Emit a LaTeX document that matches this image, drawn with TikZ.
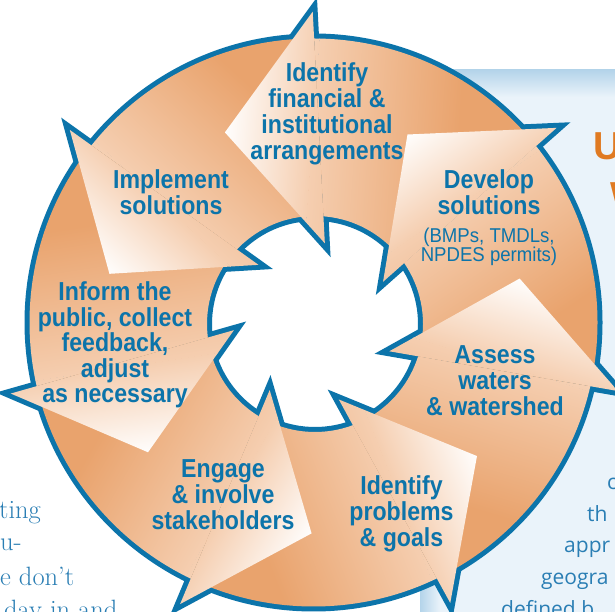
\documentclass[tikz,border=0pt]{standalone}
\usepackage{fontspec}
\newfontfamily\cond[FakeStretch=0.89]{Liberation Sans}
\newfontfamily\condreg[FakeStretch=0.93]{Liberation Sans}
\newfontfamily\osans{Open Sans}
\newfontfamily\lsans{Liberation Sans}
\usetikzlibrary{calc}
\definecolor{cblue}{HTML}{0C74AA}
\definecolor{odark}{HTML}{E9A36D}
\definecolor{opeach}{HTML}{F5CEB0}
\definecolor{panelc}{HTML}{EAF3FA}
\definecolor{paneledge}{HTML}{B4D4EA}
\definecolor{uorange}{HTML}{E07A22}
\definecolor{sblue}{HTML}{2A7EB4}
\tikzset{
  steplabel/.style={text=cblue, font=\cond\bfseries\fontsize{26}{26}\selectfont, align=center, inner sep=0pt, anchor=base},
  subnote/.style={text=cblue, font=\condreg\fontsize{20}{19}\selectfont, align=center, inner sep=0pt, anchor=base},
  rim/.style={draw=cblue, line width=10pt, line join=miter, miter limit=10},
  pagetext/.style={text=sblue, inner sep=0pt, anchor=base west},
}
\newcommand{\arrowgrad}[1]{%
  \begin{scope}[transform canvas={shift={(314pt,289pt)}, rotate=#1-7.2}]
    \fill[odark] (-700,-700) rectangle (700,-130);
    \shade[bottom color=odark, top color=opeach] (-700,-130.6) rectangle (700,15.4);
    \shade[bottom color=opeach, top color=white] (-700,15) rectangle (700,105.4);
    \fill[white] (-700,105) rectangle (700,700);
  \end{scope}}
\begin{document}
\begin{tikzpicture}[x=1pt,y=1pt]
\useasboundingbox (0,0) rectangle (615,612);
\clip (0,0) rectangle (615,612);
\fill[white] (0,0) rectangle (615,612);
% background panel
\fill[panelc] (420,0) rectangle (615,542);
\shade[top color=paneledge, bottom color=panelc] (420,542) rectangle (615,515);
\shade[left color=paneledge, right color=panelc] (420,0) rectangle (440,542);
% page text fragments
\node[pagetext, text=uorange, font=\lsans\bfseries\fontsize{39}{39}\selectfont] (tU) at (593,452) {U};
\node[pagetext, text=uorange, font=\lsans\bfseries\fontsize{39}{39}\selectfont] (tW) at (610,402) {W};
\node[pagetext, font=\osans\fontsize{21}{21}\selectfont] (r1) at (607,122) {c};
\node[pagetext, font=\osans\fontsize{21}{21}\selectfont] (r2) at (587,90) {th};
\node[pagetext, font=\osans\fontsize{21}{21}\selectfont] (r3) at (564,59) {appr};
\node[pagetext, font=\osans\fontsize{21}{21}\selectfont] (r4) at (541,27) {geogra};
\node[pagetext, font=\osans\fontsize{21}{21}\selectfont] (r5) at (501,-5) {defined b};
\node[pagetext, font=\fontsize{26.5}{26.5}\selectfont] (l1) at (-1,93) {ting};
\node[pagetext, font=\fontsize{26.5}{26.5}\selectfont] (l2) at (0,61) {u-};
\node[pagetext, font=\fontsize{26.5}{26.5}\selectfont] (l3) at (0,26) {e don’t};
\node[pagetext, font=\fontsize{26.5}{26.5}\selectfont] (l4) at (4,-7) {day in and};
% geometry
\coordinate (c) at (314,289);
\coordinate (oc) at (313.5,289.5);
\coordinate (ic) at (315,288);
\foreach \k in {0,...,6}{
  \pgfmathsetmacro\ph{93+51.4286*\k}
  \coordinate (ob\k) at ($(c)+(\ph:311)+(\ph-90:15)$);
  \coordinate (ib\k) at ($(c)+(\ph:79)+(\ph-90:15)$);
  \coordinate (tp\k) at ($(c)+(\ph:195)+(\ph+90:79)$);
}
% hole
\fill[white] (ic) circle (108);
% outline (half covered later)
\draw[rim] (oc) circle (284);
\draw[rim] (ic) circle (108);
\foreach \k in {0,...,6}{
  \draw[rim] (ob\k) -- (tp\k) -- (ib\k) -- cycle;
}
% bodies
\foreach \k in {0,...,6}{
  \pgfmathsetmacro\ph{93+51.4286*\k}
  \pgfmathsetmacro\phm{\ph-51.4286}
  \begin{scope}
    \clip (oc) circle (284) ($(ic)+(108,0)$) arc[start angle=0, end angle=-360, radius=108];
    \clip ($(c)+(\phm-90:15)$) -- ($(c)+(\phm-90:15)+(\phm:450)$) -- ($(c)+(\ph-25.7:560)$) -- ($(c)+(\ph-90:15)+(\ph:450)$) -- ($(c)+(\ph-90:15)$) -- cycle;
    \arrowgrad{\ph}
  \end{scope}
}
% heads
\foreach \k in {0,...,6}{
  \pgfmathsetmacro\ph{93+51.4286*\k}
  \begin{scope}
    \clip (ob\k) -- (tp\k) -- (ib\k) -- cycle;
    \arrowgrad{\ph}
  \end{scope}
}
% labels (anchor = baseline of last line)
\node[steplabel] (fin) at (327,452) {Identify\\financial \&\\institutional\\arrangements};
\node[steplabel] (impl) at (171,397) {Implement\\solutions};
\node[steplabel] (dev) at (489,397) {Develop\\solutions};
\node[subnote] (devnote) at (489,350) {(BMPs, TMDLs,\\NPDES permits)};
\node[steplabel, font=\cond\bfseries\fontsize{26}{25.5}\selectfont] (inf) at (115,209) {Inform the\\public, collect\\feedback,\\adjust\\as necessary};
\node[steplabel] (eng) at (223,82) {Engage\\\& involve\\stakeholders};
\node[steplabel] (prob) at (401.5,65) {Identify\\problems\\\& goals};
\node[steplabel] (ass) at (495,196) {Assess\\waters\\\& watershed};
\end{tikzpicture}
\end{document}
